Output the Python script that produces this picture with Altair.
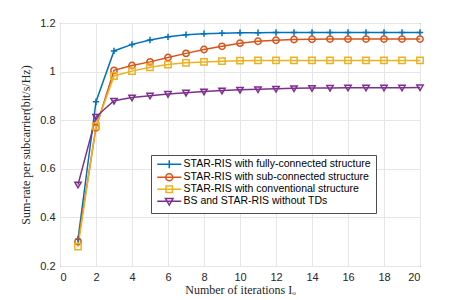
import altair as alt
import pandas as pd

iterations = list(range(1, 21))
series_names = [
    "STAR-RIS with fully-connected structure",
    "STAR-RIS with sub-connected  structure",
    "STAR-RIS with conventional structure",
    "BS and STAR-RIS without TDs",
]
fully = [0.31, 0.876, 1.085, 1.112, 1.130, 1.143, 1.152, 1.156, 1.158, 1.160,
         1.160, 1.161, 1.161, 1.161, 1.161, 1.161, 1.161, 1.161, 1.161, 1.161]
sub = [0.30, 0.769, 1.005, 1.025, 1.040, 1.058, 1.075, 1.091, 1.104, 1.117,
       1.125, 1.129, 1.132, 1.133, 1.134, 1.134, 1.134, 1.134, 1.134, 1.134]
conv = [0.28, 0.775, 0.982, 1.002, 1.018, 1.029, 1.036, 1.040, 1.043, 1.045,
        1.046, 1.046, 1.046, 1.046, 1.046, 1.046, 1.046, 1.046, 1.046, 1.046]
no_td = [0.535, 0.814, 0.880, 0.893, 0.901, 0.908, 0.913, 0.918, 0.922, 0.925,
         0.927, 0.929, 0.931, 0.932, 0.933, 0.934, 0.934, 0.934, 0.934, 0.935]
colors = ["#0072BD", "#D95319", "#EDB120", "#7E2F8E"]
x_ticks = list(range(0, 21, 2))
y_ticks = [0.2, 0.4, 0.6, 0.8, 1.0, 1.2]

rows = []
for name, vals in zip(series_names, [fully, sub, conv, no_td]):
    for it, v in zip(iterations, vals):
        rows.append({"it": it, "rate": v, "series": name})
df = pd.DataFrame(rows)

plot_shapes = [
    "M-1,0H1M0,-1V1",
    "circle",
    "square",
    "M-1,-0.75H1L0,1Z",
]
legend_shapes = [
    "M-3,0H3M0,-1V1",
    "M-3,0H3M-0.875,0A0.875,0.875,0,1,0,0.875,0A0.875,0.875,0,1,0,-0.875,0",
    "M-3,0H3M-0.8,-0.8H0.8V0.8H-0.8Z",
    "M-3,0H3M-0.95,-0.7H0.95L0,0.95Z",
]

x_enc = alt.X("it:Q", scale=alt.Scale(domain=[0, 20], nice=False),
              axis=alt.Axis(values=x_ticks, title="Number of iterations Iₒ"))
y_enc = alt.Y("rate:Q", scale=alt.Scale(domain=[0.2, 1.2], nice=False, zero=False),
              axis=alt.Axis(values=y_ticks, format="~g",
                            title="Sum-rate per subcarrier(bit/s/Hz)"))
color_scale = alt.Scale(domain=series_names, range=colors)

legend_opts = dict(title=None, orient="none", legendX=91, legendY=132,
                   symbolSize=64, symbolStrokeWidth=1.5, symbolOpacity=1,
                   symbolOffset=9, labelOffset=9, labelLimit=0,
                   labelFont="Liberation Sans", labelFontSize=10.5,
                   labelColor="#000000", rowPadding=-2.5,
                   padding=4, strokeColor="#4d4d4d", fillColor="white")

base = alt.Chart(df)
lines = base.mark_line(strokeWidth=1.5, clip=True).encode(
    x=x_enc, y=y_enc,
    color=alt.Color("series:N", scale=color_scale, legend=None),
)
points = base.mark_point(filled=False, strokeWidth=1.5, size=40, opacity=1).encode(
    x=x_enc, y=y_enc,
    color=alt.Color("series:N", scale=color_scale, legend=None),
    shape=alt.Shape("series:N", scale=alt.Scale(domain=series_names, range=plot_shapes), legend=None),
)
legend_layer = base.mark_point(filled=False, opacity=0).encode(
    x=x_enc, y=y_enc,
    color=alt.Color("series:N", scale=color_scale, legend=alt.Legend(**legend_opts)),
    shape=alt.Shape("series:N", scale=alt.Scale(domain=series_names, range=legend_shapes),
                    legend=alt.Legend(**legend_opts)),
)

chart = alt.layer(lines, points, legend_layer).resolve_scale(
    color="independent", shape="independent"
).properties(
    width=360, height=243,
    autosize=alt.AutoSizeParams(type="none"),
    padding={"left": 52, "top": 15, "right": 20, "bottom": 30},
).configure_view(
    stroke="#262626", strokeWidth=1
).configure_axis(
    grid=True, gridColor="#e6e6e6", gridWidth=1,
    domain=False, ticks=False,
    labelFont="Liberation Sans", labelFontSize=11, labelColor="#262626",
    titleFont="Liberation Serif", titleFontSize=12, titleFontWeight="normal", titleColor="#262626",
).configure_axisX(
    labelPadding=5, titlePadding=2,
).configure_axisY(
    labelPadding=5, titlePadding=7,
)

chart.save("out.html", embed_options={"renderer": "svg", "actions": False})
